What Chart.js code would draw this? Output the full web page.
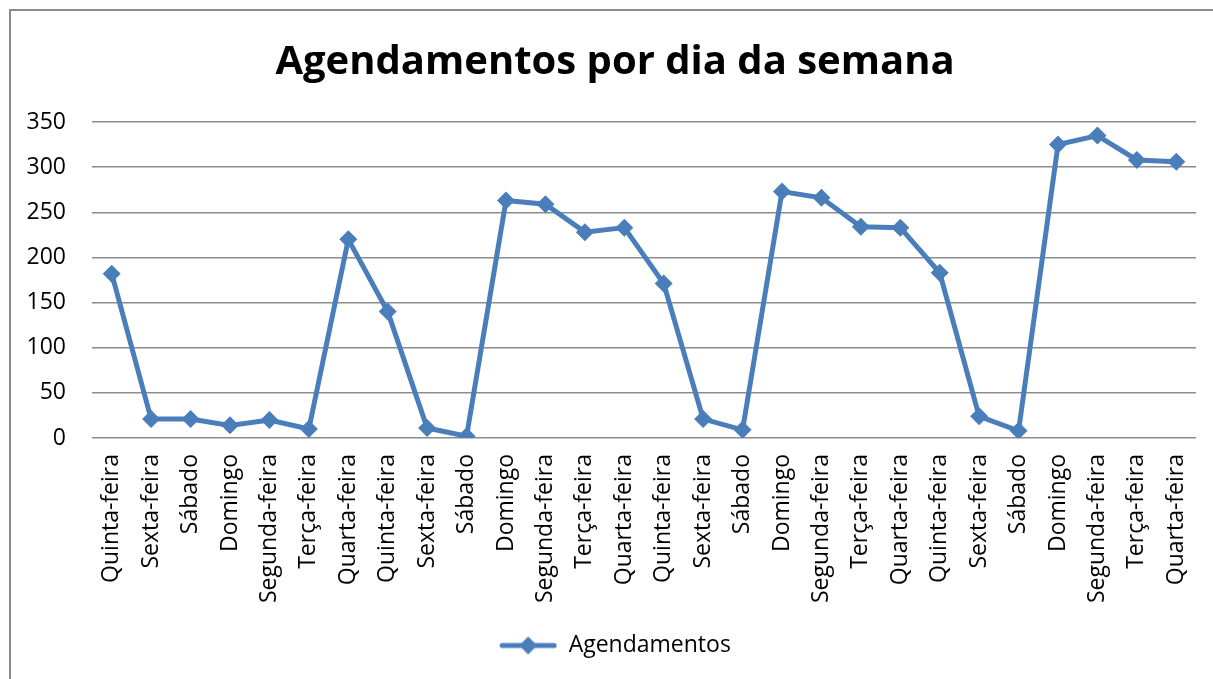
<!DOCTYPE html>
<html>
<head>
<meta charset="utf-8">
<script src="https://cdn.jsdelivr.net/npm/chart.js@4"></script>
<style>
  body { margin: 0; background: #fff; overflow: hidden; }
  #frame {
    position: absolute; left: 9px; top: 9px; width: 1260px; height: 720px;
    border: 2px solid #8c8c8c; box-sizing: border-box;
  }
  #wrap { position: absolute; left: 0; top: 0; width: 1213px; height: 679px; }
</style>
</head>
<body>
<div id="frame"></div>
<div id="wrap"><canvas id="chart"></canvas></div>
<script>
const TITLE = "Agendamentos por dia da semana";
const SERIES_LABEL = "Agendamentos";
const DAYS = [
  "Quinta-feira", "Sexta-feira", "Sábado", "Domingo", "Segunda-feira", "Terça-feira", "Quarta-feira",
  "Quinta-feira", "Sexta-feira", "Sábado", "Domingo", "Segunda-feira", "Terça-feira", "Quarta-feira",
  "Quinta-feira", "Sexta-feira", "Sábado", "Domingo", "Segunda-feira", "Terça-feira", "Quarta-feira",
  "Quinta-feira", "Sexta-feira", "Sábado", "Domingo", "Segunda-feira", "Terça-feira", "Quarta-feira",
];
const VALUES = [
  182, 21, 21, 14, 20, 10, 220,
  140, 11, 2, 263, 259, 228, 233,
  171, 21, 9, 273, 266, 234, 233,
  183, 24, 8, 325, 335, 308, 306,
];
const Y_MIN = 0;
const Y_MAX = 350;
const Y_STEP = 50;

const BLUE = "#4a7ebb";
const GRID = "#8c8c8c";
const FONT = "'Open Sans', 'Noto Sans', sans-serif";

// legend marker: short line with a diamond in the middle
function legendMarker() {
  const c = document.createElement("canvas");
  c.width = 58;
  c.height = 20;
  const ctx = c.getContext("2d");
  ctx.strokeStyle = BLUE;
  ctx.lineWidth = 5;
  ctx.lineCap = "round";
  ctx.beginPath();
  ctx.moveTo(3, 10);
  ctx.lineTo(55, 10);
  ctx.stroke();
  ctx.fillStyle = BLUE;
  ctx.beginPath();
  ctx.moveTo(29, 1);
  ctx.lineTo(38, 10);
  ctx.lineTo(29, 19);
  ctx.lineTo(20, 10);
  ctx.closePath();
  ctx.fill();
  return c;
}

const marker = legendMarker();

new Chart(document.getElementById("chart"), {
  type: "line",
  data: {
    labels: DAYS,
    datasets: [{
      label: SERIES_LABEL,
      data: VALUES,
      borderColor: BLUE,
      backgroundColor: BLUE,
      borderWidth: 5,
      pointStyle: "rectRot",
      pointRadius: 9,
      pointBorderWidth: 0,
      tension: 0,
    }],
  },
  options: {
    responsive: true,
    maintainAspectRatio: false,
    animation: false,
    layout: { padding: { left: 34, right: 17, top: 0, bottom: 12 } },
    plugins: {
      title: {
        display: true,
        text: TITLE,
        color: "#000",
        font: { family: FONT, size: 40, weight: "bold" },
        lineHeight: 1.2,
        padding: { top: 39, bottom: 35 },
      },
      legend: {
        position: "bottom",
        labels: {
          color: "#000",
          font: { family: FONT, size: 23 },
          usePointStyle: true,
          pointStyle: marker,
          pointStyleWidth: 58,
          boxHeight: 18,
          padding: 10,
          generateLabels() {
            return [{ text: SERIES_LABEL, pointStyle: marker, fillStyle: BLUE, strokeStyle: BLUE, lineWidth: 0 }];
          },
        },
      },
      tooltip: { enabled: false },
    },
    scales: {
      x: {
        offset: true,
        grid: { display: false, drawTicks: false },
        border: { display: false },
        ticks: {
          color: "#000",
          font: { family: FONT, size: 23 },
          minRotation: 90,
          maxRotation: 90,
          autoSkip: false,
          padding: 16,
        },
        afterFit(scale) {
          scale.height = 186;
          scale.paddingLeft = 0;
          scale.paddingRight = 0;
        },
      },
      y: {
        min: Y_MIN,
        max: Y_MAX,
        grid: { color: GRID, lineWidth: 1.5, drawTicks: false },
        border: { display: false },
        ticks: {
          stepSize: Y_STEP,
          color: "#000",
          font: { family: FONT, size: 23 },
          padding: 26,
        },
        afterFit(scale) {
          scale.width = 58;
          // labels are wider than the narrowed box; don't clip them
          scale._computeLabelArea = () => undefined;
        },
      },
    },
  },
});
</script>
</body>
</html>
